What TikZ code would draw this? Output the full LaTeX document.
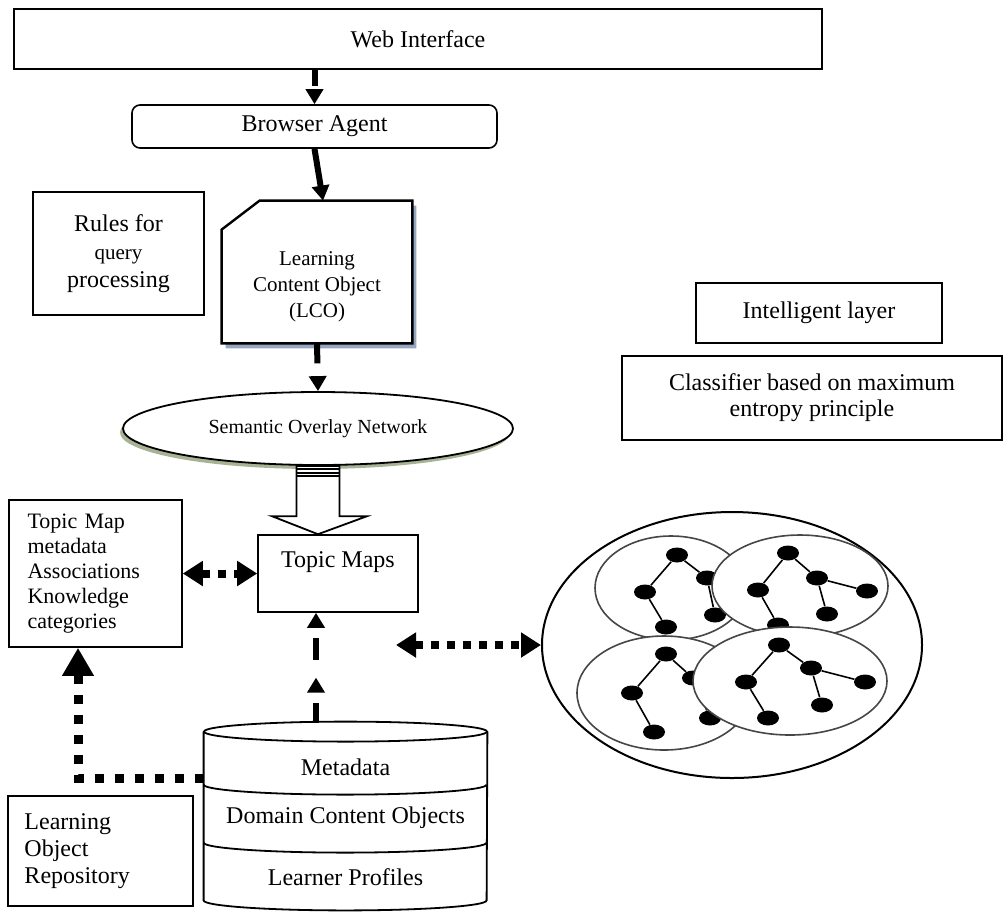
\documentclass[tikz,border=0pt]{standalone}
\usepackage{fontspec}
\setmainfont{Liberation Serif}
\usetikzlibrary{positioning,arrows.meta,shapes.geometric,shadows}
\definecolor{lcoShade}{RGB}{150,166,190}
\definecolor{semShade}{RGB}{168,178,148}
\definecolor{ringLine}{RGB}{70,70,70}

\begin{document}
\begin{tikzpicture}[x=0.5pt,y=-0.5pt,font=\fontsize{12}{14}\selectfont,
  box/.style ={draw,line width=0.8pt,align=center,inner sep=2pt},
  rbox/.style={box,rounded corners=4pt},
  grp/.style ={draw=ringLine,ellipse,fill=white,line width=0.8pt,inner sep=0pt},
  dot/.style ={ellipse,fill=black,minimum width=11pt,minimum height=7.5pt,inner sep=0pt},
  edge/.style={line width=0.8pt},
  dsh/.style ={-{Triangle[length=7.5pt,width=8.5pt]},line width=3pt},
  dbl/.style ={{Triangle[length=10pt,width=12pt]}-{Triangle[length=10pt,width=12pt]},line width=4pt,dash pattern=on 4pt off 4pt},
  bigDots/.style={-{Triangle[length=14pt,width=15pt]},line width=4.5pt,dash pattern=on 4.5pt off 5.5pt}]
\useasboundingbox (0,0) rectangle (1005,911);

% left column
\node[box,minimum width=404pt,minimum height=30pt] (web) at (418,39) {Web Interface};
\node[rbox,minimum width=182.5pt,minimum height=21.5pt] (ba) at (314.5,126.5) {Browser Agent};
\node[box,minimum width=85.5pt,minimum height=61.5pt] (rules) at (118.5,253.5) {Rules for\\{\fontsize{10.5}{13}\selectfont query}\\processing};
\node[minimum width=95pt,minimum height=71pt,inner sep=0pt] (lco) at (317,272) {};
\fill[lcoShade] ([xshift=2pt,yshift=-17pt]lco.north west) -- ([xshift=21pt,yshift=-2.5pt]lco.north west) -- ([xshift=2pt,yshift=-2.5pt]lco.north east)
  -- ([xshift=2pt,yshift=-2.5pt]lco.south east) -- ([xshift=2pt,yshift=-2.5pt]lco.south west) -- cycle;
\draw[line width=1.2pt,fill=white] ([yshift=-14.5pt]lco.north west) -- ([xshift=19pt]lco.north west) -- (lco.north east) -- (lco.south east) -- (lco.south west) -- cycle;
\node[align=center,font=\fontsize{10.5}{13}\selectfont] (lcoText) at ([yshift=-7.5pt]lco.center) {Learning\\Content Object\\(LCO)};
\node[draw,ellipse,line width=0.9pt,fill=white,minimum width=195pt,minimum height=36.5pt,inner sep=0pt,font=\fontsize{10}{12}\selectfont,
  drop shadow={shadow xshift=-1.5pt,shadow yshift=-2pt,fill=semShade,opacity=1}] (sem) at (318,428.5) {Semantic Overlay Network};
\node[box,minimum width=80pt,minimum height=38.5pt] (tm) at (338,573.5) {Topic Maps\\\mbox{}};
\node[box,minimum width=86.5pt,minimum height=73.5pt,align=left,text width=68pt,inner xsep=9pt,font=\fontsize{11}{12.5}\selectfont] (tmm) at (95.5,573.5) {Topic Map\\metadata\\Associations\\Knowledge\\categories};
\node[box,minimum width=92.5pt,minimum height=55pt,align=left,text width=76pt,inner xsep=8pt,font=\fontsize{12}{13.5}\selectfont] (lor) at (100.5,851) {Learning\\Object\\Repository};

% repository cylinder
\node[minimum width=141.5pt,minimum height=84pt,inner sep=0pt] (db) at (345.5,816) {};
\draw[line width=0.9pt] (db.north west) -- (db.south west) arc[start angle=180,end angle=360,x radius=70.75pt,y radius=5pt] -- (db.north east);
\draw[line width=0.9pt] (db.north) ellipse[x radius=70.75pt,y radius=5pt];
\draw[line width=0.9pt] ([yshift=-26.5pt]db.north west) arc[start angle=180,end angle=360,x radius=70.75pt,y radius=5pt];
\draw[line width=0.9pt] ([yshift=-55.5pt]db.north west) arc[start angle=180,end angle=360,x radius=70.75pt,y radius=5pt];
\node (dbMeta) at ([yshift=24.5pt]db.center) {Metadata};
\node (dbDom) at ([yshift=-1pt]db.center) {Domain Content Objects};
\node (dbLrn) at ([yshift=-30.5pt]db.center) {Learner Profiles};

% hollow arrow
\coordinate (hTop) at (sem.south);
\coordinate (hTip) at (hTop |- tm.north);
\draw[line width=0.9pt,fill=white] ([xshift=-10.75pt]hTop) -- ([xshift=-10.75pt,yshift=9pt]hTip) -- ([xshift=-23pt,yshift=9pt]hTip) -- (hTip)
  -- ([xshift=24.5pt,yshift=9pt]hTip) -- ([xshift=10.75pt,yshift=9pt]hTip) -- ([xshift=10.75pt]hTop) -- cycle;
\foreach \s in {1.5,3.5,5}
  \draw[line width=0.7pt] ([xshift=-10.75pt,yshift=-\s pt]hTop) -- ([xshift=10.75pt,yshift=-\s pt]hTop);

% right side
\node[box,minimum width=123pt,minimum height=30pt] (intel) at (819,313) {Intelligent layer};
\node[box,minimum width=190pt,minimum height=42pt,font=\fontsize{12}{13}\selectfont] (clsf) at (812,398) {Classifier based on maximum\\entropy principle};
\node[draw,ellipse,line width=1pt,minimum width=190pt,minimum height=133pt,inner sep=0pt] (cl) at (732,645) {};
\node[grp,minimum width=76pt,minimum height=52pt] (gA) at (671,588) {};
\node[dot] (a1) at (677,555) {}; \node[dot] (a2) at (645,592) {}; \node[dot] (a3) at (666,627) {};
\node[dot] (a4) at (707,578) {}; \node[dot] (a5) at (715,615) {};
\draw[edge] (a3) -- (a2) -- (a1) -- (a4) -- (a5);
\node[grp,minimum width=88pt,minimum height=51pt] (gB) at (800,586) {};
\node[dot] (b1) at (788,553) {}; \node[dot] (b2) at (758,590) {}; \node[dot] (b3) at (778,625) {};
\node[dot] (b4) at (817,578) {}; \node[dot] (b5) at (867,591) {}; \node[dot] (b6) at (827,614) {};
\draw[edge] (b3) -- (b2) -- (b1) -- (b4) -- (b5); \draw[edge] (b4) -- (b6);
\node[grp,minimum width=87pt,minimum height=57pt] (gC) at (664,693) {};
\node[dot] (c1) at (666,654) {}; \node[dot] (c2) at (632,693) {}; \node[dot] (c3) at (654,732) {};
\node[dot] (c4) at (693,678) {}; \node[dot] (c5) at (710,718) {};
\draw[edge] (c3) -- (c2) -- (c1) -- (c4) -- (c5);
\node[grp,minimum width=97pt,minimum height=54pt] (gD) at (790,681) {};
\node[dot] (d1) at (779,645) {}; \node[dot] (d2) at (746,682) {}; \node[dot] (d3) at (768,718) {};
\node[dot] (d4) at (811,668) {}; \node[dot] (d5) at (865,682) {}; \node[dot] (d6) at (822,705) {};
\draw[edge] (d3) -- (d2) -- (d1) -- (d4) -- (d5); \draw[edge] (d4) -- (d6);

% connectors
\draw[dsh,dash pattern=on 8pt off 2pt] (ba.north |- web.south) -- (ba.north);
\draw[dsh] (ba.south) -- ([xshift=3pt]lco.north);
\draw[dsh,dash pattern=on 10pt off 8pt] (lco.south) -- (sem.north);
\coordinate (dbUp) at ([xshift=-14.75pt,yshift=4.5pt]db.north);
\coordinate (tmMid) at ([yshift=22.5pt]dbUp);
\draw[dsh,dash pattern=on 10pt off 6pt] (dbUp) -- (tmMid);
\draw[dsh,dash pattern=on 11pt off 9pt,dash phase=11pt] (tmMid) -- (tmMid |- tm.south);
\draw[dbl] (tmm.east) -- (tm.west);
\coordinate (clIn) at ([xshift=-72.5pt]cl.west);
\draw[dbl] (clIn) -- (cl.west);
\coordinate (repUp) at ([xshift=-8.75pt]tmm.south);
\draw[bigDots] ([yshift=-23.5pt]db.north west) -| (repUp);
\end{tikzpicture}
\end{document}
